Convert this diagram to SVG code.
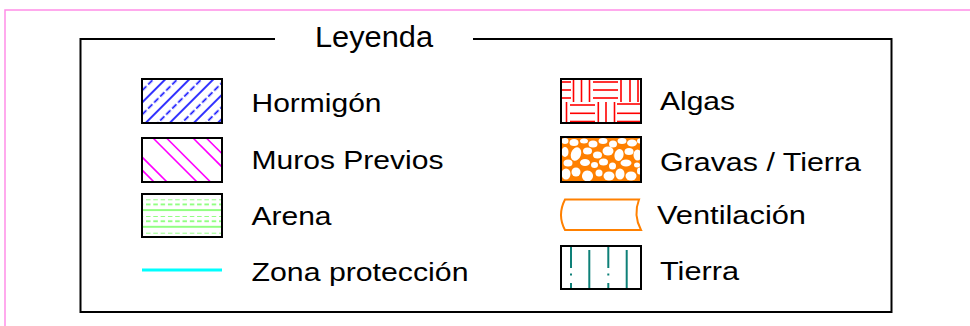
<svg xmlns="http://www.w3.org/2000/svg" width="970" height="326" viewBox="0 0 970 326">
<style>
text{font-family:"Liberation Sans",Arial,sans-serif;font-size:25px;fill:#000;}
.sw{fill:none;stroke:#000;stroke-width:2;}
</style>
<defs>
<pattern id="pHorm" width="17" height="17" patternUnits="userSpaceOnUse" patternTransform="rotate(45)">
<line x1="3" y1="0" x2="3" y2="17" stroke="#0000ff" stroke-width="1.6"/>
<line x1="11.5" y1="0" x2="11.5" y2="17" stroke="#0000ff" stroke-width="1.6" stroke-dasharray="6 2.5"/>
</pattern>
<pattern id="pArena" x="0" y="199.3" width="7.3" height="16.7" patternUnits="userSpaceOnUse">
<line x1="0" y1="0" x2="4.5" y2="0" stroke="#88ff77" stroke-width="1.8"/>
<line x1="0" y1="5.2" x2="4.5" y2="5.2" stroke="#88ff77" stroke-width="1.8"/>
<line x1="0" y1="10.8" x2="7.3" y2="10.8" stroke="#88ff77" stroke-width="1.8"/>
</pattern>
<clipPath id="cMuros"><rect x="142" y="138" width="80" height="44"/></clipPath>
<clipPath id="cGrav"><rect x="561" y="137" width="80" height="45"/></clipPath>
</defs>

<g id="frame">
<path d="M5,326 V10 H970" fill="none" stroke="#ff8ee8" stroke-width="1.5"/>
</g>

<g id="legend-box">
<path d="M275,39 H80.5 V312 H891.5 V39 H473" fill="none" stroke="#000" stroke-width="2"/>
<text x="315" y="47" style="font-size:29px" textLength="118" lengthAdjust="spacingAndGlyphs">Leyenda</text>
</g>

<g id="hormigon">
<rect x="142" y="79" width="80" height="44" fill="url(#pHorm)"/>
<rect class="sw" x="142" y="79" width="80" height="44"/>
<text x="251.5" y="112" textLength="130" lengthAdjust="spacingAndGlyphs">Hormigón</text>
</g>

<g id="muros-previos">
<g clip-path="url(#cMuros)" stroke="#ff00ff" stroke-width="1.6">
<line x1="127" y1="142" x2="187" y2="202"/>
<line x1="114" y1="142" x2="174" y2="202"/>
<line x1="153" y1="138" x2="213" y2="198"/>
<line x1="166.5" y1="138" x2="226.5" y2="198"/>
<line x1="193" y1="138" x2="253" y2="198"/>
<line x1="206.3" y1="138" x2="266.3" y2="198"/>
</g>
<rect class="sw" x="142" y="138" width="80" height="44"/>
<text x="251.5" y="168.5" textLength="192" lengthAdjust="spacingAndGlyphs">Muros Previos</text>
</g>

<g id="arena">
<rect x="143" y="195" width="78" height="41" fill="url(#pArena)"/>
<rect class="sw" x="142" y="194" width="80" height="43"/>
<text x="251.5" y="224.5" textLength="80" lengthAdjust="spacingAndGlyphs">Arena</text>
</g>

<g id="zona-proteccion">
<line x1="142" y1="270" x2="222" y2="270" stroke="#00ffff" stroke-width="3"/>
<text x="251.5" y="281" textLength="217" lengthAdjust="spacingAndGlyphs">Zona protección</text>
</g>

<g id="algas">
<g stroke="#ff0000" stroke-width="1.6">
<line x1="561" y1="82" x2="571" y2="82"/>
<line x1="561" y1="90" x2="571" y2="90"/>
<line x1="561" y1="98" x2="571" y2="98"/>
<line x1="573.5" y1="79" x2="573.5" y2="102"/>
<line x1="581.5" y1="79" x2="581.5" y2="102"/>
<line x1="589.5" y1="79" x2="589.5" y2="102"/>
<line x1="593" y1="82" x2="618" y2="82"/>
<line x1="593" y1="90" x2="618" y2="90"/>
<line x1="593" y1="98" x2="618" y2="98"/>
<line x1="621" y1="79" x2="621" y2="102"/>
<line x1="630" y1="79" x2="630" y2="102"/>
<line x1="638" y1="79" x2="638" y2="102"/>
<line x1="566.5" y1="102" x2="566.5" y2="123"/>
<line x1="570" y1="105" x2="595" y2="105"/>
<line x1="570" y1="113.3" x2="595" y2="113.3"/>
<line x1="570" y1="121.5" x2="595" y2="121.5"/>
<line x1="598.3" y1="102" x2="598.3" y2="123"/>
<line x1="606" y1="102" x2="606" y2="123"/>
<line x1="614.5" y1="102" x2="614.5" y2="123"/>
<line x1="617" y1="104" x2="641" y2="104"/>
<line x1="617" y1="113.3" x2="641" y2="113.3"/>
<line x1="617" y1="121.5" x2="641" y2="121.5"/>
</g>
<rect class="sw" x="561" y="79" width="80" height="44"/>
<text x="660" y="110" textLength="75" lengthAdjust="spacingAndGlyphs">Algas</text>
</g>

<g id="gravas-tierra">
<rect x="561" y="137" width="80" height="45" fill="#ff8000"/>
<g clip-path="url(#cGrav)" fill="#fff">
<ellipse cx="565" cy="141" rx="3.5" ry="3"/>
<ellipse cx="574" cy="142.5" rx="4.5" ry="3.5"/>
<ellipse cx="584" cy="141" rx="4" ry="2.5"/>
<ellipse cx="593" cy="144" rx="4.5" ry="3.5"/>
<ellipse cx="603" cy="141" rx="4.5" ry="3"/>
<ellipse cx="613" cy="144" rx="4" ry="3.5"/>
<ellipse cx="622" cy="141" rx="4.5" ry="3"/>
<ellipse cx="632" cy="143" rx="5" ry="3.5"/>
<ellipse cx="639.5" cy="141" rx="2.5" ry="2.5"/>
<ellipse cx="565" cy="152" rx="3.5" ry="5"/>
<ellipse cx="576" cy="154" rx="5" ry="7" transform="rotate(20 576 154)"/>
<ellipse cx="587.5" cy="151" rx="4.5" ry="3.5"/>
<ellipse cx="597.5" cy="155" rx="4.5" ry="3.5"/>
<ellipse cx="608" cy="151" rx="5.5" ry="4.5"/>
<ellipse cx="619" cy="155" rx="4.5" ry="6" transform="rotate(15 619 155)"/>
<ellipse cx="629" cy="151.5" rx="4.5" ry="3.5"/>
<ellipse cx="637.5" cy="155" rx="4" ry="5.5"/>
<ellipse cx="568" cy="163" rx="4.5" ry="3.5"/>
<ellipse cx="585" cy="162.5" rx="5" ry="3.5"/>
<ellipse cx="594.5" cy="165" rx="3.5" ry="3"/>
<ellipse cx="603.5" cy="162" rx="4.5" ry="3.5"/>
<ellipse cx="612.5" cy="166" rx="3.5" ry="3.5"/>
<ellipse cx="626" cy="163" rx="5.5" ry="3.5"/>
<ellipse cx="637" cy="165" rx="3" ry="2.5"/>
<ellipse cx="566" cy="174" rx="4.5" ry="5.5"/>
<ellipse cx="576" cy="172" rx="4.5" ry="4.5"/>
<ellipse cx="587.5" cy="176" rx="5.5" ry="5.5" transform="rotate(-20 587.5 176)"/>
<ellipse cx="599" cy="173" rx="3.5" ry="3.5"/>
<ellipse cx="609" cy="176" rx="5.5" ry="4.5"/>
<ellipse cx="620" cy="174" rx="4.5" ry="5.5"/>
<ellipse cx="631" cy="176" rx="5.5" ry="4.5"/>
<ellipse cx="639.5" cy="171" rx="2.5" ry="3.5"/>
</g>
<rect class="sw" x="561" y="137" width="80" height="45"/>
<text x="660" y="171" textLength="201" lengthAdjust="spacingAndGlyphs">Gravas / Tierra</text>
</g>

<g id="ventilacion">
<path d="M565,199.5 L639,199.5 Q633,215 641,230 L565,230 Q557,215 565,199.5 Z" fill="none" stroke="#ff8000" stroke-width="2"/>
<text x="657" y="224" textLength="149" lengthAdjust="spacingAndGlyphs">Ventilación</text>
</g>

<g id="tierra">
<g stroke="#0e8078" stroke-width="2">
<line x1="571" y1="246" x2="571" y2="268"/>
<line x1="571" y1="273.5" x2="571" y2="275.5"/>
<line x1="571" y1="283" x2="571" y2="289"/>
<line x1="589.3" y1="250" x2="589.3" y2="289"/>
<line x1="608.3" y1="246" x2="608.3" y2="268"/>
<line x1="608.3" y1="273.5" x2="608.3" y2="275.5"/>
<line x1="608.3" y1="283" x2="608.3" y2="289"/>
<line x1="626.7" y1="250" x2="626.7" y2="289"/>
</g>
<rect class="sw" x="561" y="246" width="80" height="43"/>
<text x="660" y="280" textLength="79" lengthAdjust="spacingAndGlyphs">Tierra</text>
</g>
</svg>
